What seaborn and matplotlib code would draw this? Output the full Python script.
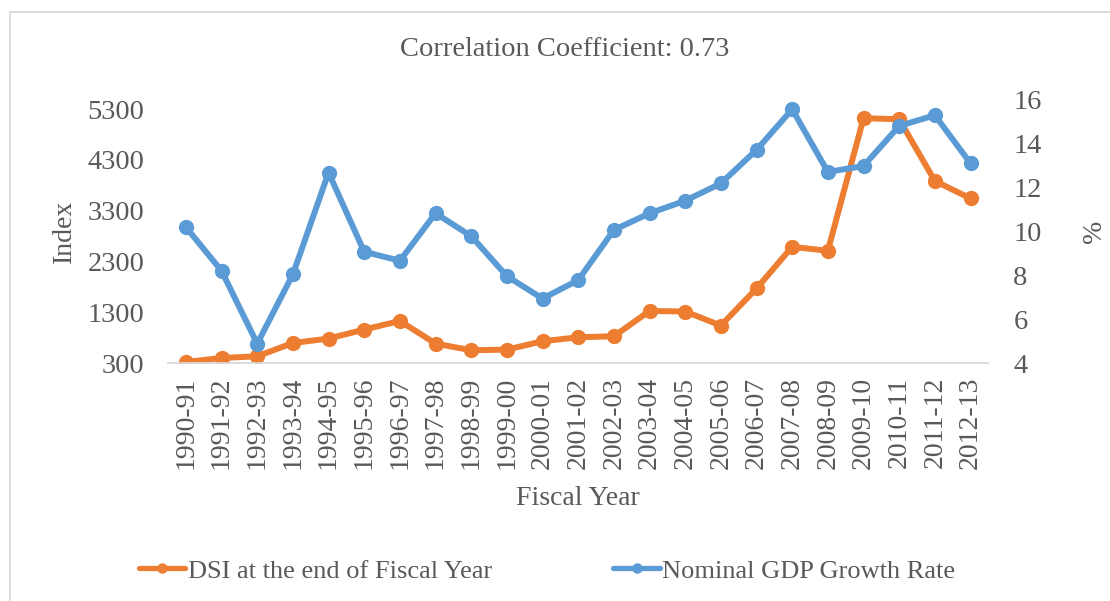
import numpy as np
import pandas as pd
import matplotlib
matplotlib.use("Agg")
import matplotlib.pyplot as plt
import seaborn as sns
from matplotlib.patches import Rectangle
from matplotlib.lines import Line2D

# Data
fiscal_years = ["1990-91", "1991-92", "1992-93", "1993-94", "1994-95", "1995-96",
                "1996-97", "1997-98", "1998-99", "1999-00", "2000-01", "2001-02",
                "2002-03", "2003-04", "2004-05", "2005-06", "2006-07", "2007-08",
                "2008-09", "2009-10", "2010-11", "2011-12", "2012-13"]
dsi_index = [320, 399, 432, 694, 781, 959, 1128, 683, 550, 564, 728, 807,
             826, 1325, 1314, 1038, 1767, 2588, 2509, 5120, 5100, 3883, 3542]
gdp_growth = [10.18, 8.19, 4.88, 8.03, 12.66, 9.06, 8.65, 10.81, 9.77, 7.95, 6.93, 7.77,
              10.05, 10.81, 11.38, 12.17, 13.69, 15.54, 12.69, 12.96, 14.78, 15.27, 13.08]
left_ticks = [300, 1300, 2300, 3300, 4300, 5300]
right_ticks = [4, 6, 8, 10, 12, 14, 16]
series_names = ["DSI at the end of Fiscal Year", "Nominal GDP Growth Rate"]

orange = "#ED7D31"
blue = "#5B9BD5"
text_col = "#595959"

sns.set_style("white")
plt.rcParams["font.family"] = ["Liberation Serif", "DejaVu Serif"]

df = pd.DataFrame({"year": fiscal_years, "pos": np.arange(len(fiscal_years)),
                   "dsi": dsi_index, "gdp": gdp_growth})

fig = plt.figure(figsize=(11.1, 6.01), dpi=100)
ax = fig.add_axes([0.1514, 0.396, 0.739, 0.439])
ax2 = ax.twinx()

sns.lineplot(data=df, x="pos", y="dsi", ax=ax, color=orange, linewidth=4.3,
             marker="o", markersize=11, markeredgewidth=0, legend=False)
sns.lineplot(data=df, x="pos", y="gdp", ax=ax2, color=blue, linewidth=4.3,
             marker="o", markersize=11, markeredgewidth=0, legend=False)

ax.set_xlim(-0.5, len(fiscal_years) - 0.5)
ax.set_ylim(300, 5495)
ax2.set_ylim(4, 16)
ax.set_xticks(df["pos"])
ax.set_xticklabels(fiscal_years, rotation=90, fontsize=20, color=text_col)
ax.set_yticks(left_ticks)
ax.set_yticklabels([str(t) for t in left_ticks], fontsize=20.5, color=text_col)
ax2.set_yticks(right_ticks)
ax2.set_yticklabels([str(t) for t in right_ticks], fontsize=20.5, color=text_col)
ax.tick_params(axis="y", length=0, pad=17)
ax.tick_params(axis="x", length=0, pad=10)
ax2.tick_params(length=0, pad=18)

for a in (ax, ax2):
    for s in a.spines.values():
        s.set_visible(False)
ax.spines["bottom"].set_visible(True)
ax.spines["bottom"].set_color("#D9D9D9")
ax.spines["bottom"].set_linewidth(1.3)

ax.set_xlabel("Fiscal Year", fontsize=20, color=text_col, labelpad=12)
ax.set_ylabel("Index", fontsize=20, color=text_col, labelpad=8)
ax2.set_ylabel("%", fontsize=20, color=text_col, rotation=90, labelpad=29)

fig.text(0.509, 0.917, "Correlation Coefficient: 0.73", ha="center", va="center",
         fontsize=20.5, color=text_col)

handles = [Line2D([], [], color=c, linewidth=3.8, marker="o", markersize=7.5,
                  markeredgewidth=0) for c in (orange, blue)]
fig.legend(handles, series_names, loc="center", bbox_to_anchor=(0.493, 0.05), ncol=2,
           frameon=False, fontsize=19, labelcolor=text_col, handlelength=1.75,
           handletextpad=0.1, columnspacing=4.6)

# chart border
fig.patches.append(Rectangle((10 / 1110, -0.05), 1.1, 1 - 12 / 601 + 0.05,
                             transform=fig.transFigure, fill=False,
                             edgecolor="#D9D9D9", linewidth=1.3))

fig.savefig("out.png", dpi=100)
